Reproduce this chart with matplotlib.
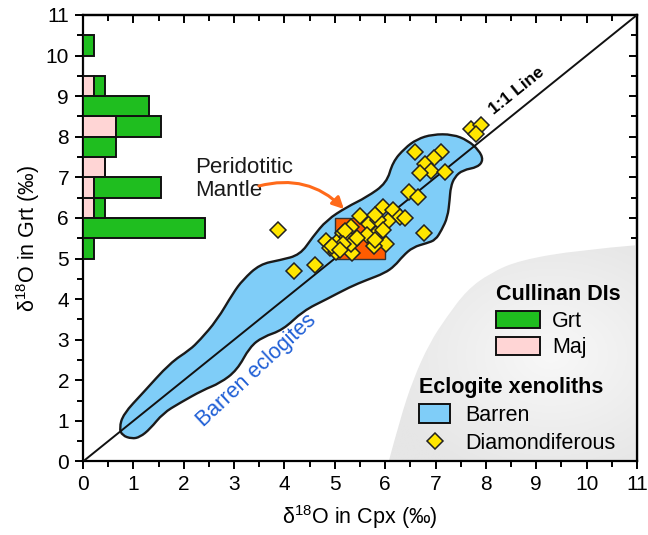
import numpy as np
import matplotlib
matplotlib.use("Agg")
import matplotlib.pyplot as plt
from matplotlib.patches import PathPatch, Rectangle, Patch, FancyArrowPatch
from matplotlib.path import Path
from matplotlib.lines import Line2D

plt.rcParams['font.family'] = ['Liberation Sans', 'DejaVu Sans']
plt.rcParams['mathtext.default'] = 'regular'

# Cullinan diamond inclusions, d18O Grt histogram (0.5 permil bins)
bin_lo = [5.0, 5.5, 6.0, 6.5, 7.0, 7.5, 8.0, 8.5, 9.0, 9.5, 10.0]
grt_counts = [1, 11, 1, 6, 0, 3, 4, 6, 1, 0, 1]
maj_counts = [0, 0, 1, 1, 2, 0, 3, 0, 1, 0, 0]
count_unit = 0.22  # x-axis length of one count

# diamondiferous eclogite xenoliths
dia_cpx = [3.88, 4.18, 4.60, 4.82, 4.90, 5.05, 5.16, 5.33, 5.50, 5.67, 5.86, 5.96,
           6.16, 6.29, 6.40, 6.02, 5.78, 5.35, 5.02, 5.24, 6.05, 5.86, 5.63, 5.33,
           5.20, 5.16, 5.80, 5.96, 5.79, 6.78, 6.48, 6.65, 6.59, 7.10, 6.96, 6.79,
           6.90, 6.69, 7.18, 7.71, 7.91, 7.80, 4.95, 5.45, 5.10]
dia_grt = [5.71, 4.70, 4.84, 5.42, 5.25, 5.40, 5.64, 5.78, 6.04, 5.84, 5.66, 6.28,
           6.20, 6.03, 5.99, 5.37, 5.30, 5.13, 5.16, 5.54, 5.92, 5.95, 5.58, 5.37,
           5.68, 5.37, 6.07, 5.70, 5.46, 5.62, 6.64, 6.52, 7.62, 7.63, 7.47, 7.34,
           7.16, 7.10, 7.14, 8.20, 8.30, 8.08, 5.30, 5.50, 5.22]

# barren eclogite field outline (control points of a smooth closed curve)
barren_x = [0.72, 0.80, 1.19, 1.73, 2.12, 2.32, 2.66, 2.98, 3.17, 3.51, 3.91, 4.31,
            4.56, 4.84, 5.24, 5.63, 6.03, 6.15, 6.39, 6.63, 6.94, 7.34, 7.64, 7.86,
            7.95, 7.84, 7.54, 7.38, 7.30, 7.28, 7.24, 7.12, 7.00, 6.83, 6.55, 6.35,
            6.19, 5.99, 5.63, 5.30, 4.84, 4.37, 3.97, 3.57, 3.31, 3.06, 2.72, 2.38,
            1.92, 1.59, 1.33, 1.13, 0.97, 0.78]
barren_y = [0.82, 1.17, 1.69, 2.43, 2.75, 2.99, 3.48, 4.15, 4.47, 4.86, 4.96, 5.09,
            5.53, 5.95, 6.27, 6.51, 6.86, 7.38, 7.72, 7.94, 8.06, 8.06, 7.91, 7.67,
            7.43, 7.25, 7.18, 7.01, 6.76, 6.44, 6.02, 5.70, 5.46, 5.38, 5.28, 5.06,
            4.82, 4.64, 4.47, 4.30, 4.00, 3.71, 3.24, 3.07, 2.82, 2.25, 1.93, 1.76,
            1.44, 1.19, 0.80, 0.60, 0.56, 0.64]

# peridotitic mantle box
mantle_x = [5.0, 6.0]
mantle_y = [5.0, 6.0]

# grey shaded region, lower right (curved edge)
shade_x = [6.07, 6.29, 6.55, 6.88, 7.22, 7.62, 8.08, 8.67, 9.86, 11.0]
shade_y = [0.0, 1.02, 2.01, 2.92, 3.56, 4.22, 4.64, 4.96, 5.21, 5.33]

green = '#1fbe1f'
pink = '#ffd5d5'
blue = '#7fcdf8'
yellow = '#ffe600'
orange = '#ff5c00'


def smooth_path(xs, ys, closed):
    p = np.column_stack([xs, ys])
    if closed:
        mids = (p + np.roll(p, -1, axis=0)) / 2
        verts = [mids[-1]]
        codes = [Path.MOVETO]
        for i in range(len(p)):
            verts += [p[i], mids[i]]
            codes += [Path.CURVE3, Path.CURVE3]
        verts.append(mids[-1])
        codes.append(Path.CLOSEPOLY)
    else:
        verts = [p[0]]
        codes = [Path.MOVETO]
        for i in range(1, len(p) - 1):
            end = p[i + 1] if i == len(p) - 2 else (p[i] + p[i + 1]) / 2
            verts += [p[i], end]
            codes += [Path.CURVE3, Path.CURVE3]
        verts += [(11, 0), p[0]]
        codes += [Path.LINETO, Path.CLOSEPOLY]
    return Path(verts, codes)


fig = plt.figure(figsize=(6.48, 5.35), dpi=100)
ax = fig.add_axes([0.1281, 0.1374, 0.8549, 0.8346])
ax.set_xlim(0, 11)
ax.set_ylim(0, 11)

# grey shaded region with a soft radial gradient
shade = PathPatch(smooth_path(shade_x, shade_y, False), fc='none', ec='none')
ax.add_patch(shade)
gx, gy = np.meshgrid(np.linspace(6, 11, 200), np.linspace(0, 5.5, 200))
r = np.sqrt(((gx - 9.3) / 3.4) ** 2 + ((gy - 2.6) / 3.2) ** 2)
img = ax.imshow(np.clip(r, 0, 1), extent=[6, 11, 0, 5.5], origin='lower',
                cmap=matplotlib.colors.LinearSegmentedColormap.from_list('g', ['#f8f8f8', '#e6e6e6']),
                vmin=0, vmax=1, aspect='auto', zorder=0.5)
img.set_clip_path(shade)

# barren eclogite field
ax.add_patch(PathPatch(smooth_path(barren_x, barren_y, True), fc=blue,
                       ec='#1a1a1a', lw=1.7, zorder=1))

# peridotitic mantle box
ax.add_patch(Rectangle((mantle_x[0], mantle_y[0]), mantle_x[1] - mantle_x[0],
                       mantle_y[1] - mantle_y[0], fc=orange, ec='#333333', lw=1.0, zorder=2))

# 1:1 line
ax.plot([0, 11], [0, 11], color='#111111', lw=1.4, zorder=3)

# histogram of garnet inclusions
maj_w = np.array(maj_counts) * count_unit
grt_w = np.array(grt_counts) * count_unit
ax.barh(bin_lo, maj_w, height=0.5, align='edge', color=pink, edgecolor='#111111', lw=1.4, zorder=4)
ax.barh(bin_lo, grt_w, height=0.5, left=maj_w, align='edge', color=green,
        edgecolor='#111111', lw=1.4, zorder=4)

# diamondiferous eclogites
ax.plot(dia_cpx, dia_grt, ls='none', marker='D', ms=8.5, mfc=yellow, mec='#222222', mew=1.1, zorder=5)

# annotations
ax.text(8.62, 9.12, '1:1 Line', fontsize=12.5, fontweight='bold', rotation=45,
        transform_rotates_text=True, rotation_mode='anchor', ha='center', va='center')
ax.text(3.45, 2.25, 'Barren eclogites', fontsize=15.5, color='#1f5fd6', rotation=43,
        rotation_mode='anchor', ha='center', va='center')
ax.text(2.22, 7.5, 'Peridotitic\nMantle', fontsize=16, ha='left', va='top',
        linespacing=1.1, color='#1a1a1a')
ax.add_patch(FancyArrowPatch((3.44, 6.77), (5.22, 6.17), connectionstyle='arc3,rad=-0.3',
                             arrowstyle='-|>', mutation_scale=17, color='#ff6a1a', lw=2.2, zorder=6))

# legends
leg1 = ax.legend(handles=[Patch(fc=green, ec='#111111', lw=1.4, label='Grt'),
                          Patch(fc=pink, ec='#111111', lw=1.4, label='Maj')],
                 title='Cullinan DIs', loc='upper left', bbox_to_anchor=(0.745, 0.397),
                 frameon=False, borderpad=0, borderaxespad=0, alignment='left',
                 handlelength=2.05, handleheight=0.88, handletextpad=0.56, labelspacing=0.25,
                 fontsize=15.5, title_fontproperties={'weight': 'bold', 'size': 15.5})
ax.add_artist(leg1)
ax.legend(handles=[Patch(fc=blue, ec='#111111', lw=1.4, label='Barren'),
                   Line2D([], [], ls='none', marker='D', ms=8.5, mfc=yellow, mec='#222222',
                          mew=1.1, label='Diamondiferous')],
          title='Eclogite xenoliths', loc='upper left', bbox_to_anchor=(0.607, 0.19),
          frameon=False, borderpad=0, borderaxespad=0, alignment='left',
          handlelength=1.45, handleheight=0.98, handletextpad=0.7, labelspacing=0.3,
          fontsize=15.5, title_fontproperties={'weight': 'bold', 'size': 15.5})

# axes and ticks
ax.set_xticks(range(0, 12))
ax.set_yticks(range(0, 12))
ax.set_xticks(np.arange(0.5, 11, 1), minor=True)
ax.set_yticks(np.arange(0.5, 11, 1), minor=True)
ax.tick_params(which='major', direction='out', length=6, width=1.4, labelsize=15, pad=4)
ax.tick_params(which='minor', direction='out', length=4, width=1.4)
for side in ('top', 'right'):
    sec = ax.secondary_xaxis('top') if side == 'top' else ax.secondary_yaxis('right')
    sec.set_ticks(range(0, 12))
    sec.set_ticks(np.arange(0.5, 11, 1), minor=True)
    sec.tick_params(which='major', direction='in', length=6, width=1.4,
                    labeltop=False, labelright=False)
    sec.tick_params(which='minor', direction='in', length=4, width=1.4)
    for s in sec.spines.values():
        s.set_linewidth(1.6)
for s in ax.spines.values():
    s.set_linewidth(1.6)

ax.set_xlabel('δ$^{18}$O in Cpx (‰)', fontsize=15.5, labelpad=6)
ax.set_ylabel('δ$^{18}$O in Grt (‰)', fontsize=15.5, labelpad=3)

fig.savefig('out.png', dpi=100)
